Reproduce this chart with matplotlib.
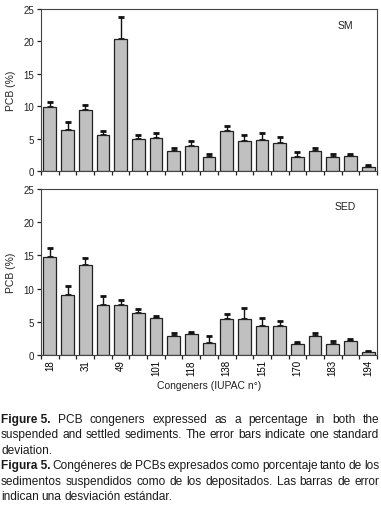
import matplotlib
matplotlib.use("Agg")
import matplotlib.pyplot as plt
import numpy as np

plt.rcParams["font.family"] = ["Liberation Sans", "DejaVu Sans"]

# ── Data ──────────────────────────────────────────────────────────────────────
congeners = ["18", "28", "31", "44", "49", "52", "101", "105", "118", "128",
             "138", "149", "151", "153", "170", "180", "183", "187", "194"]
shown_labels = ["18", "31", "49", "101", "118", "138", "151", "170", "183", "194"]

sm_mean = [9.8, 6.3, 9.4, 5.6, 20.3, 4.9, 5.1, 3.1, 3.9, 2.2,
           6.1, 4.7, 4.8, 4.3, 2.2, 3.1, 2.2, 2.3, 0.6]
sm_sd   = [0.9, 1.2, 0.8, 0.5, 3.4, 0.6, 0.7, 0.4, 0.8, 0.5,
           0.8, 0.8, 1.0, 0.9, 0.7, 0.4, 0.5, 0.4, 0.25]

sed_mean = [14.7, 9.1, 13.5, 7.6, 7.6, 6.4, 5.5, 2.9, 3.1, 1.8,
            5.4, 5.4, 4.3, 4.3, 1.6, 2.8, 1.6, 2.1, 0.5]
sed_sd   = [1.4, 1.3, 1.1, 1.3, 0.7, 0.5, 0.4, 0.45, 0.4, 1.0,
            0.8, 1.7, 1.3, 0.75, 0.4, 0.55, 0.45, 0.35, 0.15]

caption = [
    ("Figure 5.", "PCB congeners expressed as a percentage in both the", True),
    ("", "suspended and settled sediments. The error bars indicate one standard", True),
    ("", "deviation.", False),
    ("Figura 5.", "Congéneres de PCBs expresados como porcentaje tanto de los", True),
    ("", "sedimentos suspendidos como de los depositados. Las barras de error", True),
    ("", "indican una desviación estándar.", False),
]

W, H = 381, 506
fig = plt.figure(figsize=(W / 100, H / 100), dpi=100)

x = np.arange(len(congeners))


def panel(rect, mean, sd, tag, show_xlabels):
    ax = fig.add_axes(rect)
    ax.bar(x, mean, width=0.72, color="#c0c0c0", edgecolor="#222222",
           linewidth=0.9, zorder=2)
    ax.errorbar(x, mean, yerr=[np.zeros(len(sd)), sd], fmt="none",
                ecolor="#111111", elinewidth=1.0, capsize=2.5, capthick=2.0,
                zorder=1)
    ax.set_xlim(-0.5, len(x) - 0.5)
    ax.set_ylim(0, 25)
    ax.set_yticks([0, 5, 10, 15, 20, 25])
    ax.tick_params(axis="y", direction="out", length=3, width=0.9,
                   labelsize=7, pad=2, colors="#222222")
    # major ticks between bars, labels on minor ticks at bar centres
    ax.set_xticks(np.arange(-0.5, len(x), 1.0))
    ax.set_xticklabels([])
    ax.tick_params(axis="x", which="major", direction="out", length=3,
                   width=0.9, colors="#222222")
    if show_xlabels:
        idx = [congeners.index(c) for c in shown_labels]
        ax.set_xticks(idx, minor=True)
        ax.set_xticklabels(shown_labels, minor=True, rotation=90, fontsize=7)
        ax.tick_params(axis="x", which="minor", length=0, pad=3)
        ax.set_xlabel("Congeners (IUPAC n°)", fontsize=7.5, labelpad=3,
                      color="#222222")
    ax.set_ylabel("PCB (%)", fontsize=7.5, labelpad=5, color="#222222")
    for s in ax.spines.values():
        s.set_linewidth(0.8)
        s.set_color("#444444")
    ax.text(0.905, 0.9, tag, transform=ax.transAxes, fontsize=7.5,
            ha="center", va="center", color="#222222")
    return ax


panel([41 / W, 1 - 172 / H, 336 / W, 162 / H], sm_mean, sm_sd, "SM", False)
panel([41 / W, 1 - 356 / H, 336 / W, 166 / H], sed_mean, sed_sd, "SED", True)

# ── Caption (justified) ───────────────────────────────────────────────────────
fig.canvas.draw()
renderer = fig.canvas.get_renderer()
left_px, right_px = 1, 379
y0, dy = 420, 15.4
fs = 8.6
for i, (bold, rest, justify) in enumerate(caption):
    ypx = y0 + i * dy
    yf = 1 - ypx / H
    words = []
    if bold:
        words.append((bold, "bold"))
    words += [(w, "normal") for w in rest.split()]
    texts = [fig.text(0, yf, w, fontsize=fs, fontweight=wt, va="center",
                      ha="left", color="#1a1a1a") for w, wt in words]
    widths = [t.get_window_extent(renderer).width for t in texts]
    if justify and len(words) > 1:
        gap = (right_px - left_px - sum(widths)) / (len(words) - 1)
    else:
        gap = 3.0
    xp = left_px
    for t, w in zip(texts, widths):
        t.set_x(xp / W)
        xp += w + gap

fig.savefig("out.png", dpi=100)
